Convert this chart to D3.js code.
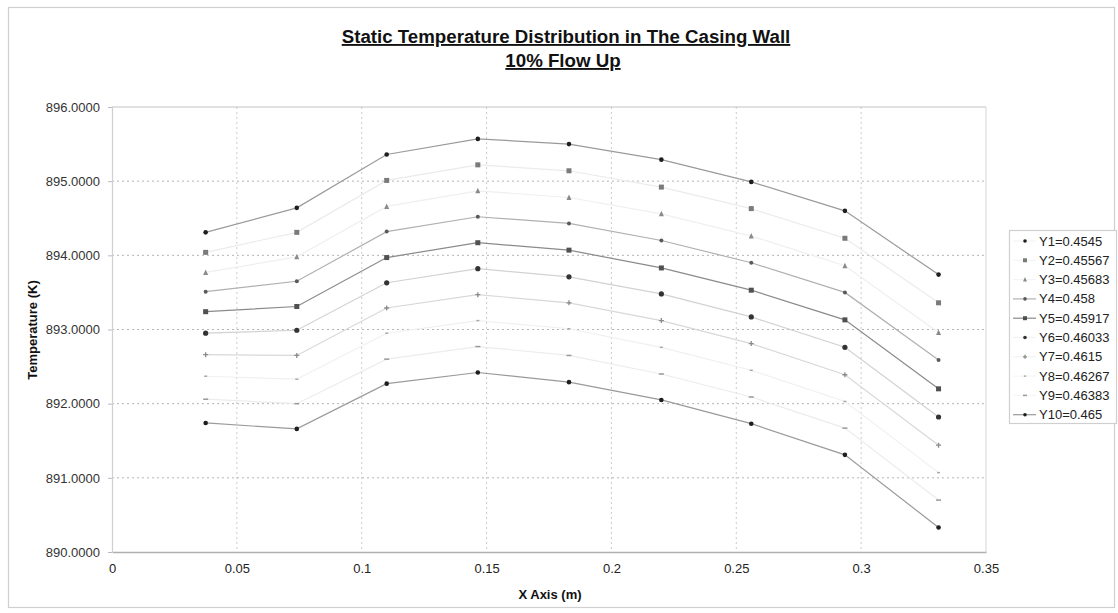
<!DOCTYPE html>
<html>
<head>
<meta charset="utf-8">
<script src="https://cdn.jsdelivr.net/npm/d3@7/dist/d3.min.js"></script>
<style>
  html, body { margin: 0; padding: 0; background: #fff; }
  svg { display: block; font-family: "Liberation Sans", Arial, sans-serif; }
</style>
</head>
<body>
<svg id="chart" width="1118" height="613"></svg>
<script>
// Axial positions along the casing wall (m)
const xPositions = [0.0375, 0.074, 0.110, 0.1465, 0.183, 0.220, 0.256, 0.2935, 0.331];

// Radial stations and their temperature profiles (K)
const seriesNames = ["Y1=0.4545", "Y2=0.45567", "Y3=0.45683", "Y4=0.458", "Y5=0.45917",
                     "Y6=0.46033", "Y7=0.4615", "Y8=0.46267", "Y9=0.46383", "Y10=0.465"];
const Y1  = [894.31, 894.64, 895.36, 895.57, 895.50, 895.29, 894.99, 894.60, 893.74];
const Y2  = [894.04, 894.31, 895.01, 895.22, 895.14, 894.92, 894.63, 894.23, 893.36];
const Y3  = [893.77, 893.98, 894.66, 894.87, 894.78, 894.56, 894.26, 893.86, 892.96];
const Y4  = [893.51, 893.65, 894.32, 894.52, 894.43, 894.20, 893.90, 893.50, 892.59];
const Y5  = [893.24, 893.31, 893.97, 894.17, 894.07, 893.83, 893.53, 893.13, 892.20];
const Y6  = [892.95, 892.99, 893.63, 893.82, 893.71, 893.48, 893.17, 892.76, 891.82];
const Y7  = [892.66, 892.65, 893.29, 893.47, 893.36, 893.12, 892.81, 892.39, 891.44];
const Y8  = [892.37, 892.33, 892.95, 893.12, 893.01, 892.76, 892.45, 892.03, 891.07];
const Y9  = [892.06, 892.00, 892.60, 892.77, 892.65, 892.40, 892.09, 891.67, 890.70];
const Y10 = [891.74, 891.66, 892.27, 892.42, 892.29, 892.05, 891.73, 891.31, 890.33];
const seriesValues = [Y1, Y2, Y3, Y4, Y5, Y6, Y7, Y8, Y9, Y10];

const xTicks = [0, 0.05, 0.1, 0.15, 0.2, 0.25, 0.3, 0.35];
const yTicks = [890, 891, 892, 893, 894, 895, 896];

// Per-series drawing style (grey print rendition); "key" is the legend line tone
const styles = [
  { line: "#9a9a9a", key: "#f4f4f4", mark: "circle",   fill: "#1e1e1e", size: 2.3 },
  { line: "#ebebeb", key: "#f4f4f4", mark: "square",   fill: "#7a7a7a", size: 5 },
  { line: "#efefef", key: "#f4f4f4", mark: "triangle", fill: "#8a8a8a", size: 5 },
  { line: "#b0b0b0", key: "#b0b0b0", mark: "circle",   fill: "#5a5a5a", size: 2 },
  { line: "#8a8a8a", key: "#8a8a8a", mark: "square",   fill: "#505050", size: 5 },
  { line: "#d2d2d2", key: "#f2f2f2", mark: "circle",   fill: "#333333", size: 2.6 },
  { line: "#d8d8d8", key: "#f2f2f2", mark: "plus",     fill: "#8a8a8a", size: 5 },
  { line: "#f0f0f0", key: "#f6f6f6", mark: "dash",     fill: "#aaaaaa", size: 3 },
  { line: "#ececec", key: "#f6f6f6", mark: "dash",     fill: "#999999", size: 5 },
  { line: "#9a9a9a", key: "#9a9a9a", mark: "circle",   fill: "#1e1e1e", size: 2.3 }
];

const svg = d3.select("#chart");
const plot = { left: 112, right: 986, top: 107, bottom: 552 };

const x = d3.scaleLinear().domain([0, 0.35]).range([plot.left, plot.right]);
const y = d3.scaleLinear().domain([890, 896]).range([plot.bottom, plot.top]);

// Outer chart frame
svg.append("rect").attr("x", 8.5).attr("y", 7.5).attr("width", 1106).attr("height", 600)
  .attr("fill", "#fff").attr("stroke", "#cfcfcf").attr("stroke-width", 1.2);

// Title
const title = svg.append("g").attr("font-weight", "bold").attr("fill", "#111")
  .attr("font-size", 18.7).attr("text-anchor", "middle").attr("text-decoration", "underline");
title.append("text").attr("x", 566).attr("y", 43).text("Static Temperature Distribution in The Casing Wall");
title.append("text").attr("x", 563).attr("y", 67).text("10% Flow Up");

// Gridlines
const grid = svg.append("g");
grid.selectAll("line.h").data(yTicks.filter(t => t > 890 && t < 896)).join("line")
  .attr("x1", plot.left).attr("x2", plot.right)
  .attr("y1", d => y(d)).attr("y2", d => y(d))
  .attr("stroke", "#b4b4b4").attr("stroke-width", 1).attr("stroke-dasharray", "2,3");
grid.selectAll("line.v").data(xTicks.filter(t => t > 0 && t < 0.35)).join("line")
  .attr("x1", d => x(d)).attr("x2", d => x(d))
  .attr("y1", plot.top).attr("y2", plot.bottom)
  .attr("stroke", "#cccccc").attr("stroke-width", 1).attr("stroke-dasharray", "2,3");

// Plot frame lines
svg.append("line").attr("x1", plot.left).attr("x2", plot.right).attr("y1", plot.top).attr("y2", plot.top)
  .attr("stroke", "#c4c4c4").attr("stroke-width", 1.2);
svg.append("line").attr("x1", plot.right).attr("x2", plot.right).attr("y1", plot.top).attr("y2", plot.bottom)
  .attr("stroke", "#d6d6d6").attr("stroke-width", 1);

// Axes
const xAxis = svg.append("g").attr("transform", `translate(0,${plot.bottom})`)
  .call(d3.axisBottom(x).tickValues(xTicks).tickFormat(d => d === 0 ? "0" : String(+d.toFixed(2))).tickSize(0).tickPadding(12));
xAxis.select(".domain").attr("stroke", "#b0b0b0").attr("stroke-width", 1.5);
xAxis.selectAll("text").attr("font-size", 13).attr("fill", "#222").attr("font-family", "Liberation Sans, Arial, sans-serif");

const yAxis = svg.append("g").attr("transform", `translate(${plot.left},0)`)
  .call(d3.axisLeft(y).tickValues(yTicks).tickFormat(d3.format(".4f")).tickSize(4).tickPadding(8));
yAxis.select(".domain").attr("stroke", "#d0d0d0").attr("stroke-width", 1.2);
yAxis.selectAll(".tick line").attr("stroke", "#bbb");
yAxis.selectAll("text").attr("font-size", 13).attr("fill", "#333").attr("font-family", "Liberation Sans, Arial, sans-serif");

// Axis titles
svg.append("text").attr("x", 550).attr("y", 599).attr("text-anchor", "middle")
  .attr("font-size", 13).attr("font-weight", "bold").attr("fill", "#111").text("X Axis (m)");
svg.append("text").attr("transform", "translate(37,330) rotate(-90)").attr("text-anchor", "middle")
  .attr("font-size", 13).attr("font-weight", "bold").attr("fill", "#111").text("Temperature (K)");

// Marker drawing helper
function drawMarker(g, st, cx, cy) {
  const s = st.size;
  if (st.mark === "circle") {
    g.append("circle").attr("cx", cx).attr("cy", cy).attr("r", s).attr("fill", st.fill);
  } else if (st.mark === "square") {
    g.append("rect").attr("x", cx - s / 2).attr("y", cy - s / 2).attr("width", s).attr("height", s).attr("fill", st.fill);
  } else if (st.mark === "triangle") {
    g.append("path").attr("d", `M${cx},${cy - s / 2 - 0.5}L${cx + s / 2},${cy + s / 2}L${cx - s / 2},${cy + s / 2}Z`).attr("fill", st.fill);
  } else if (st.mark === "plus") {
    g.append("path").attr("d", `M${cx - s / 2},${cy}H${cx + s / 2}M${cx},${cy - s / 2}V${cy + s / 2}`)
      .attr("stroke", st.fill).attr("stroke-width", 1.3);
  } else if (st.mark === "dash") {
    g.append("path").attr("d", `M${cx - s / 2},${cy}H${cx + s / 2}`).attr("stroke", st.fill).attr("stroke-width", 1.5);
  }
}

// Series lines and markers
const lineGen = d3.line().x(d => x(d[0])).y(d => y(d[1]));
const seriesG = svg.append("g");
seriesValues.forEach((vals, i) => {
  const pts = vals.map((v, k) => [xPositions[k], v]);
  seriesG.append("path").datum(pts).attr("d", lineGen)
    .attr("fill", "none").attr("stroke", styles[i].line).attr("stroke-width", 1.2);
});
seriesValues.forEach((vals, i) => {
  const g = seriesG.append("g");
  vals.forEach((v, k) => drawMarker(g, styles[i], x(xPositions[k]), y(v)));
});

// Legend
const legend = svg.append("g");
legend.append("rect").attr("x", 1009.5).attr("y", 230.5).attr("width", 107).attr("height", 193)
  .attr("fill", "#fff").attr("stroke", "#cfcfcf").attr("stroke-width", 1.2);
seriesNames.forEach((name, i) => {
  const ly = 241 + i * 19.3;
  const st = styles[i];
  legend.append("line").attr("x1", 1013).attr("x2", 1036).attr("y1", ly).attr("y2", ly)
    .attr("stroke", st.key).attr("stroke-width", 1.2);
  drawMarker(legend, Object.assign({}, st, { size: st.mark === "circle" ? 1.8 : st.size * 0.8 }), 1025, ly);
  legend.append("text").attr("x", 1039).attr("y", ly + 4.5).attr("font-size", 13)
    .attr("fill", "#222").text(name);
});
</script>
</body>
</html>
